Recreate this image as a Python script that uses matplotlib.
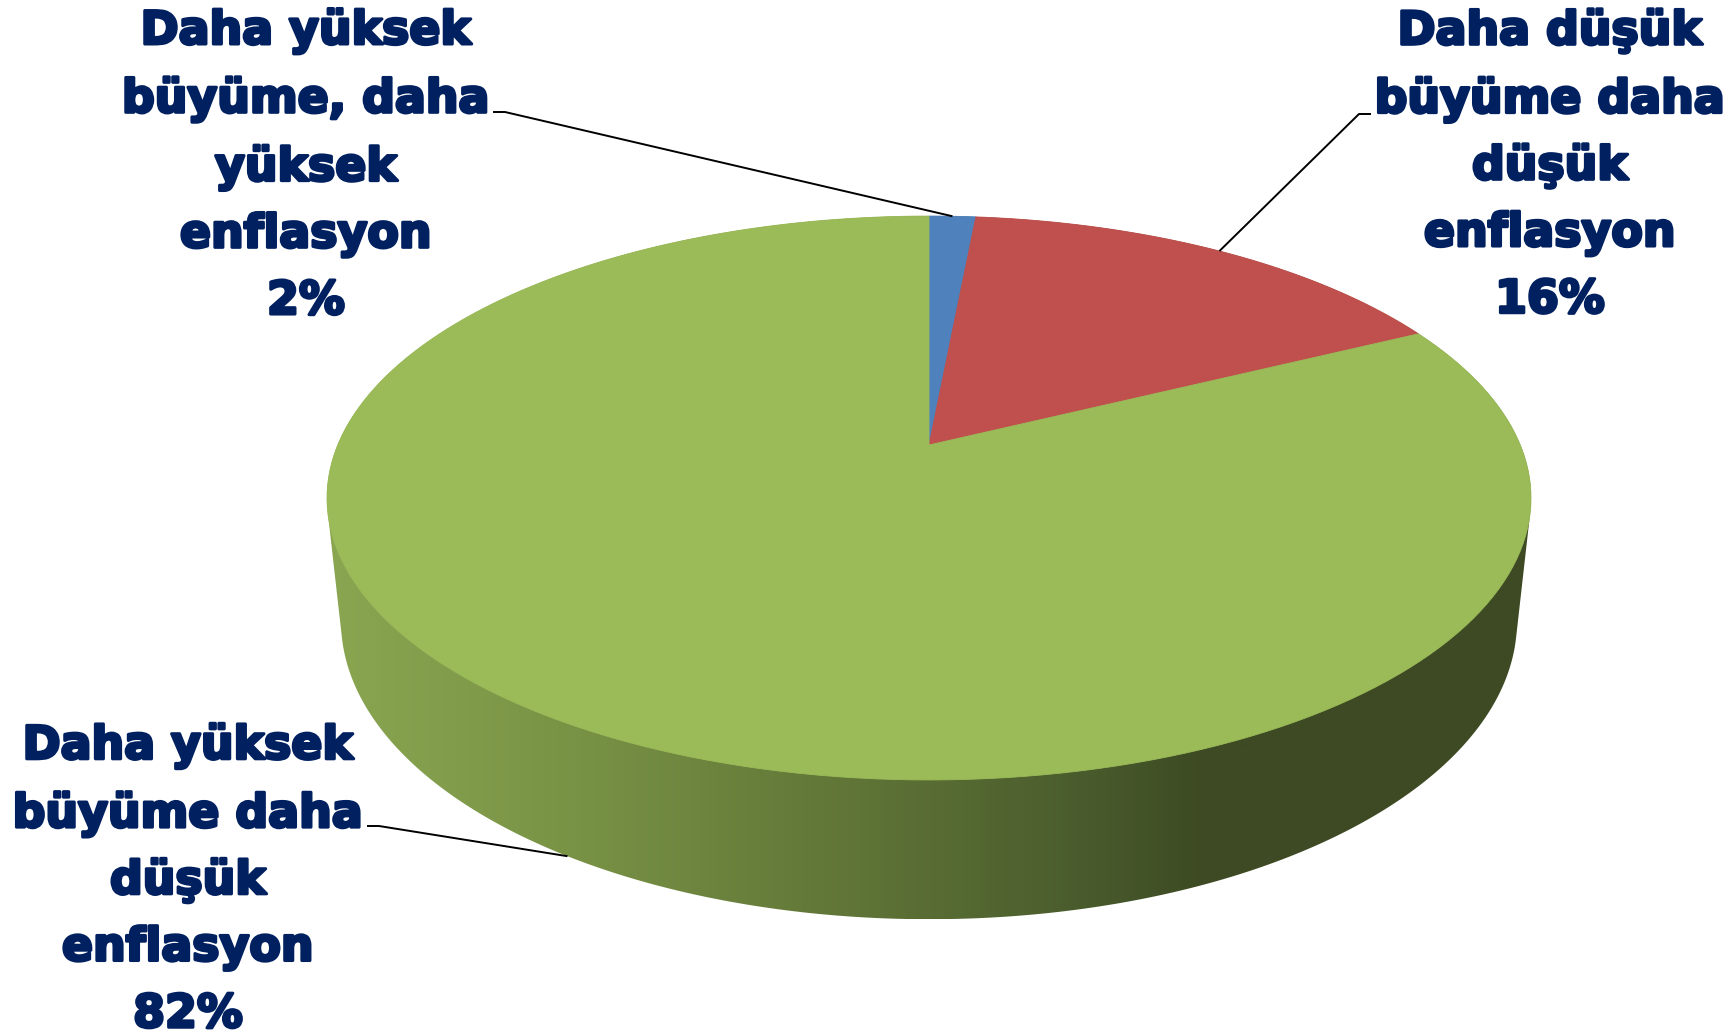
import numpy as np
import matplotlib
matplotlib.use("Agg")
import matplotlib.pyplot as plt
import matplotlib.patheffects as pe
from matplotlib.patches import Polygon
from matplotlib.colors import LinearSegmentedColormap

# data
names = ["Daha yüksek\nbüyüme, daha\nyüksek\nenflasyon",
         "Daha düşük\nbüyüme daha\ndüşük\nenflasyon",
         "Daha yüksek\nbüyüme daha\ndüşük\nenflasyon"]
values = [1.5, 16.2, 82.3]
colors = ["#4F81BD", "#C0504D", "#9BBB59"]

# label placement (pixels) and start of each leader line
label_pos = [(306, 166), (1550, 166), (188, 880)]
leader_start = [(493, 112), (1371, 114), (367, 826)]

# 3d look: simple perspective camera
CX, CY = 929, 445      # screen pos of the pie centre
FOCAL = 2793
RADIUS = 0.2117
DEPTH = 0.05
SIN_T = 0.46
COS_T = np.sqrt(1 - SIN_T ** 2)

side_stops = [(0.0, "#8AA651"), (0.19, "#7A9446"), (0.45, "#5E7336"),
              (0.64, "#485A2C"), (0.73, "#3D4A23"), (1.0, "#3E4A24")]


def proj(theta, drop, r=1.0):
    # theta clockwise from the far side of the pie
    u = r * np.sin(theta)
    v = r * np.cos(theta)
    z = 1 + drop * SIN_T + RADIUS * COS_T * v
    y = -drop * COS_T + RADIUS * SIN_T * v
    return np.column_stack([CX + FOCAL * RADIUS * u / z, CY - FOCAL * y / z])


def hull(pts):
    pts = sorted(set(map(tuple, np.round(pts, 3))))

    def cross(o, a, b):
        return (a[0] - o[0]) * (b[1] - o[1]) - (a[1] - o[1]) * (b[0] - o[0])
    lower, upper = [], []
    for p in pts:
        while len(lower) >= 2 and cross(lower[-2], lower[-1], p) <= 0:
            lower.pop()
        lower.append(p)
    for p in reversed(pts):
        while len(upper) >= 2 and cross(upper[-2], upper[-1], p) <= 0:
            upper.pop()
        upper.append(p)
    return np.array(lower[:-1] + upper[:-1])


fig = plt.figure(figsize=(17.32, 10.35), dpi=100)
ax = fig.add_axes([0, 0, 1, 1])
ax.axis("off")

# side of the cylinder: gradient clipped to outline
theta = np.linspace(0, 2 * np.pi, 721)
outline = hull(np.vstack([proj(theta, 0), proj(theta, DEPTH)]))
side = Polygon(outline, closed=True, facecolor="none", edgecolor="none")
ax.add_patch(side)
cmap = LinearSegmentedColormap.from_list("side", side_stops)
x0, x1 = outline[:, 0].min(), outline[:, 0].max()
y0, y1 = outline[:, 1].min(), outline[:, 1].max()
im = ax.imshow(np.linspace(0, 1, 500)[None, :], cmap=cmap, aspect="auto",
               extent=(x0, x1, y1, y0), zorder=1, interpolation="bilinear")
im.set_clip_path(side)

# top face slices
total = sum(values)
bounds = np.concatenate([[0], np.cumsum(values)]) / total * 2 * np.pi
centre = proj(np.array([0.0]), 0, r=0.0)
for i, val in enumerate(values):
    t = np.linspace(bounds[i], bounds[i + 1], 200)
    pts = np.vstack([centre, proj(t, 0)])
    ax.add_patch(Polygon(pts, closed=True, facecolor=colors[i],
                         edgecolor=colors[i], lw=0.6, zorder=2))

# labels + leader lines
for i, val in enumerate(values):
    mid = (bounds[i] + bounds[i + 1]) / 2
    drop = DEPTH if np.cos(mid) < 0 else 0
    anchor = proj(np.array([mid]), drop)[0]
    sx, sy = leader_start[i]
    step = 12 if anchor[0] > sx else -12
    ax.plot([sx, sx + step, anchor[0]], [sy, sy, anchor[1]],
            color="black", lw=1.4, zorder=3, solid_capstyle="butt")
    pct = "%d%%" % round(val / total * 100)
    ax.text(label_pos[i][0], label_pos[i][1], names[i] + "\n" + pct,
            ha="center", va="center", multialignment="center",
            fontsize=33, fontweight="bold", color="#002060",
            family="DejaVu Sans", linespacing=1.62, zorder=4,
            path_effects=[pe.withStroke(linewidth=2.2, foreground="#002060")])

ax.set_xlim(0, 1732)
ax.set_ylim(1035, 0)
fig.savefig("out.png", dpi=100)
